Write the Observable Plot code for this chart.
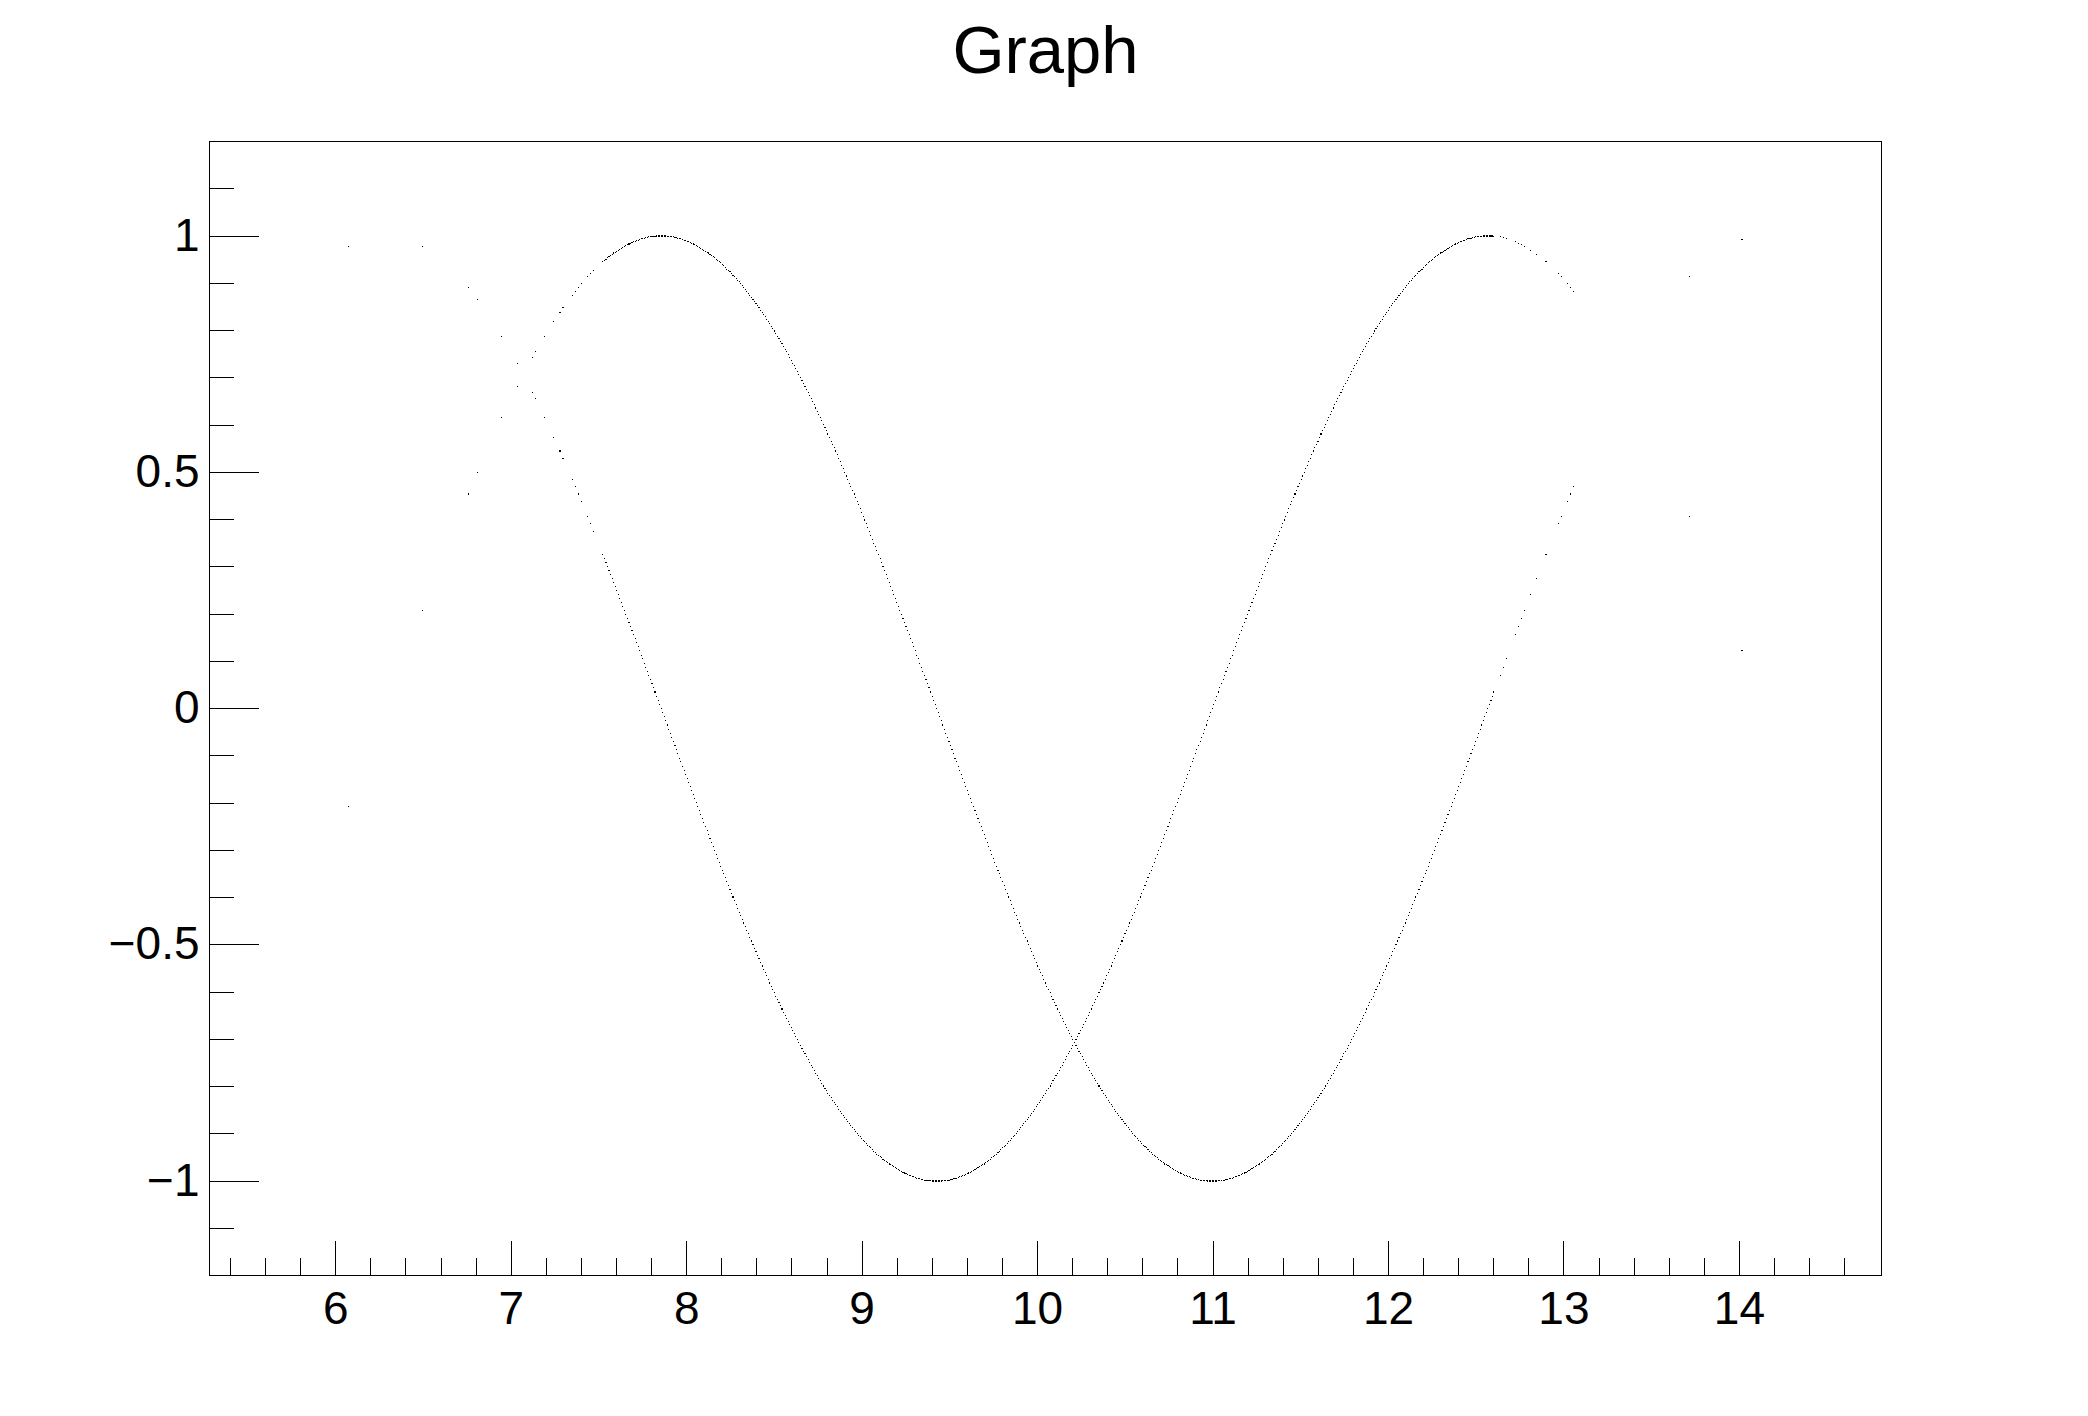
<!DOCTYPE html>
<html><head><meta charset="utf-8">
<script src="https://cdn.jsdelivr.net/npm/d3@7"></script>
<script src="https://cdn.jsdelivr.net/npm/@observablehq/plot@0.6"></script>
<style>html,body{margin:0;padding:0;background:#fff;} #chart svg{display:block;}</style>
</head><body><div id="chart"></div>
<script>
const title = "Graph";

// x positions of the sampled points (same x for both series)
const xs = [
6.074,6.493,6.754,6.807,6.946,7.034,7.121,7.138,7.191,7.243,7.278,7.295,7.348,7.365,7.383,7.400,7.435,7.453,7.470,
7.522,7.540,7.557,7.575,7.592,7.610,7.627,7.645,7.662,
7.679,7.697,7.714,7.732,7.749,7.767,7.784,7.802,7.819,7.837,
7.854,7.871,7.889,7.906,7.924,7.941,7.959,7.976,7.994,8.011,
8.029,8.046,8.063,8.081,8.098,8.116,8.133,8.151,8.168,8.186,
8.203,8.221,8.238,8.255,8.273,8.290,8.308,8.325,8.343,8.360,
8.378,8.395,8.412,8.430,8.447,8.465,8.482,8.500,8.517,8.535,
8.552,8.570,8.587,8.604,8.622,8.639,8.657,8.674,8.692,8.709,
8.727,8.744,8.762,8.779,8.796,8.814,8.831,8.849,8.866,8.884,
8.901,8.919,8.936,8.954,8.971,8.988,9.006,9.023,9.041,9.058,
9.076,9.093,9.111,9.128,9.146,9.163,9.180,9.198,9.215,9.233,
9.250,9.268,9.285,9.303,9.320,9.338,9.355,9.372,9.390,9.407,
9.425,9.442,9.460,9.477,9.495,9.512,9.529,9.547,9.564,9.582,
9.599,9.617,9.634,9.652,9.669,9.687,9.704,9.721,9.739,9.756,
9.774,9.791,9.809,9.826,9.844,9.861,9.879,9.896,9.913,9.931,
9.948,9.966,9.983,10.001,10.018,10.036,10.053,10.071,10.088,10.105,
10.123,10.140,10.158,10.175,10.193,10.210,10.228,10.245,10.263,10.280,
10.297,10.315,10.332,10.350,10.367,10.385,10.402,10.420,10.437,10.455,
10.472,10.489,10.507,10.524,10.542,10.559,10.577,10.594,10.612,10.629,
10.647,10.664,10.681,10.699,10.716,10.734,10.751,10.769,10.786,10.804,
10.821,10.838,10.856,10.873,10.891,10.908,10.926,10.943,10.961,10.978,
10.996,11.013,11.030,11.048,11.065,11.083,11.100,11.118,11.135,11.153,
11.170,11.188,11.205,11.222,11.240,11.257,11.275,11.292,11.310,11.327,
11.345,11.362,11.380,11.397,11.414,11.432,11.449,11.467,11.484,11.502,
11.519,11.537,11.554,11.572,11.589,11.606,11.624,11.641,11.659,11.676,
11.694,11.711,11.729,11.746,11.764,11.781,11.798,11.816,11.833,11.851,
11.868,11.886,11.903,11.921,11.938,11.956,11.973,11.990,12.008,12.025,
12.043,12.060,12.078,12.095,12.113,12.130,12.147,12.165,12.182,12.200,
12.217,12.235,12.252,12.270,12.287,12.305,12.322,12.339,12.357,12.374,
12.392,12.409,12.427,12.444,12.462,12.479,12.497,12.514,12.531,12.549,
12.566,12.584,12.601,
12.636,12.654,12.671,12.723,12.741,12.758,12.776,12.811,12.846,12.898,12.968,12.985,13.020,13.038,13.055,13.718,14.015
];

// first series (sine-shaped curve)
const sinY = [
-.208,.208,.454,.5,.616,.682,.743,.755,.788,.819,.839,.848,.875,.883,.891,.899,.914,.921,.927,
.946,.951,.956,.961,.966,.970,.974,.978,.982,
.985,.988,.990,.993,.995,.996,.998,.999,.999,1.000,
1,1.000,.999,.999,.998,.996,.995,.993,.990,.988,
.985,.982,.978,.974,.970,.966,.961,.956,.951,.946,
.940,.934,.927,.921,.914,.906,.899,.891,.883,.875,
.866,.857,.848,.839,.829,.819,.809,.799,.788,.777,
.766,.755,.743,.731,.719,.707,.695,.682,.669,.656,
.643,.629,.616,.602,.588,.574,.559,.545,.530,.515,
.5,.485,.469,.454,.438,.423,.407,.391,.375,.358,
.342,.326,.309,.292,.276,.259,.242,.225,.208,.191,
.174,.156,.139,.122,.105,.087,.070,.052,.035,.017,
0,-.017,-.035,-.052,-.070,-.087,-.105,-.122,-.139,-.156,
-.174,-.191,-.208,-.225,-.242,-.259,-.276,-.292,-.309,-.326,
-.342,-.358,-.375,-.391,-.407,-.423,-.438,-.454,-.469,-.485,
-.5,-.515,-.530,-.545,-.559,-.574,-.588,-.602,-.616,-.629,
-.643,-.656,-.669,-.682,-.695,-.707,-.719,-.731,-.743,-.755,
-.766,-.777,-.788,-.799,-.809,-.819,-.829,-.839,-.848,-.857,
-.866,-.875,-.883,-.891,-.899,-.906,-.914,-.921,-.927,-.934,
-.940,-.946,-.951,-.956,-.961,-.966,-.970,-.974,-.978,-.982,
-.985,-.988,-.990,-.993,-.995,-.996,-.998,-.999,-.999,-1.000,
-1,-1.000,-.999,-.999,-.998,-.996,-.995,-.993,-.990,-.988,
-.985,-.982,-.978,-.974,-.970,-.966,-.961,-.956,-.951,-.946,
-.940,-.934,-.927,-.921,-.914,-.906,-.899,-.891,-.883,-.875,
-.866,-.857,-.848,-.839,-.829,-.819,-.809,-.799,-.788,-.777,
-.766,-.755,-.743,-.731,-.719,-.707,-.695,-.682,-.669,-.656,
-.643,-.629,-.616,-.602,-.588,-.574,-.559,-.545,-.530,-.515,
-.5,-.485,-.469,-.454,-.438,-.423,-.407,-.391,-.375,-.358,
-.342,-.326,-.309,-.292,-.276,-.259,-.242,-.225,-.208,-.191,
-.174,-.156,-.139,-.122,-.105,-.087,-.070,-.052,-.035,-.017,
0,.017,.035,
.070,.087,.105,.156,.174,.191,.208,.242,.276,.326,.391,.407,.438,.454,.469,.914,.993
];

// second series (cosine-shaped curve)
const cosY = [
.978,.978,.891,.866,.788,.731,.669,.656,.616,.574,.545,.530,.485,.469,.454,.438,.407,.391,.375,
.326,.309,.292,.276,.259,.242,.225,.208,.191,
.174,.156,.139,.122,.105,.087,.070,.052,.035,.017,
0,-.017,-.035,-.052,-.070,-.087,-.105,-.122,-.139,-.156,
-.174,-.191,-.208,-.225,-.242,-.259,-.276,-.292,-.309,-.326,
-.342,-.358,-.375,-.391,-.407,-.423,-.438,-.454,-.469,-.485,
-.5,-.515,-.530,-.545,-.559,-.574,-.588,-.602,-.616,-.629,
-.643,-.656,-.669,-.682,-.695,-.707,-.719,-.731,-.743,-.755,
-.766,-.777,-.788,-.799,-.809,-.819,-.829,-.839,-.848,-.857,
-.866,-.875,-.883,-.891,-.899,-.906,-.914,-.921,-.927,-.934,
-.940,-.946,-.951,-.956,-.961,-.966,-.970,-.974,-.978,-.982,
-.985,-.988,-.990,-.993,-.995,-.996,-.998,-.999,-.999,-1.000,
-1,-1.000,-.999,-.999,-.998,-.996,-.995,-.993,-.990,-.988,
-.985,-.982,-.978,-.974,-.970,-.966,-.961,-.956,-.951,-.946,
-.940,-.934,-.927,-.921,-.914,-.906,-.899,-.891,-.883,-.875,
-.866,-.857,-.848,-.839,-.829,-.819,-.809,-.799,-.788,-.777,
-.766,-.755,-.743,-.731,-.719,-.707,-.695,-.682,-.669,-.656,
-.643,-.629,-.616,-.602,-.588,-.574,-.559,-.545,-.530,-.515,
-.5,-.485,-.469,-.454,-.438,-.423,-.407,-.391,-.375,-.358,
-.342,-.326,-.309,-.292,-.276,-.259,-.242,-.225,-.208,-.191,
-.174,-.156,-.139,-.122,-.105,-.087,-.070,-.052,-.035,-.017,
0,.017,.035,.052,.070,.087,.105,.122,.139,.156,
.174,.191,.208,.225,.242,.259,.276,.292,.309,.326,
.342,.358,.375,.391,.407,.423,.438,.454,.469,.485,
.5,.515,.530,.545,.559,.574,.588,.602,.616,.629,
.643,.656,.669,.682,.695,.707,.719,.731,.743,.755,
.766,.777,.788,.799,.809,.819,.829,.839,.848,.857,
.866,.875,.883,.891,.899,.906,.914,.921,.927,.934,
.940,.946,.951,.956,.961,.966,.970,.974,.978,.982,
.985,.988,.990,.993,.995,.996,.998,.999,.999,1.000,
1,1.000,.999,
.998,.996,.995,.988,.985,.982,.978,.970,.961,.946,.921,.914,.899,.891,.883,.407,.122
];

// extra in-between samples of the dense middle part
const xsMid = [
7.531,7.549,7.566,7.583,7.601,7.618,7.636,7.653,7.671,
7.688,7.706,7.723,7.741,7.758,7.775,7.793,7.810,7.828,7.845,
7.863,7.880,7.898,7.915,7.933,7.950,7.967,7.985,8.002,8.020,
8.037,8.055,8.072,8.090,8.107,8.125,8.142,8.159,8.177,8.194,
8.212,8.229,8.247,8.264,8.282,8.299,8.316,8.334,8.351,8.369,
8.386,8.404,8.421,8.439,8.456,8.474,8.491,8.508,8.526,8.543,
8.561,8.578,8.596,8.613,8.631,8.648,8.666,8.683,8.700,8.718,
8.735,8.753,8.770,8.788,8.805,8.823,8.840,8.858,8.875,8.892,
8.910,8.927,8.945,8.962,8.980,8.997,9.015,9.032,9.050,9.067,
9.084,9.102,9.119,9.137,9.154,9.172,9.189,9.207,9.224,9.242,
9.259,9.276,9.294,9.311,9.329,9.346,9.364,9.381,9.399,9.416,
9.434,9.451,9.468,9.486,9.503,9.521,9.538,9.556,9.573,9.591,
9.608,9.625,9.643,9.660,9.678,9.695,9.713,9.730,9.748,9.765,
9.783,9.800,9.817,9.835,9.852,9.870,9.887,9.905,9.922,9.940,
9.957,9.975,9.992,10.009,10.027,10.044,10.062,10.079,10.097,10.114,
10.132,10.149,10.167,10.184,10.201,10.219,10.236,10.254,10.271,10.289,
10.306,10.324,10.341,10.359,10.376,10.393,10.411,10.428,10.446,10.463,
10.481,10.498,10.516,10.533,10.551,10.568,10.585,10.603,10.620,10.638,
10.655,10.673,10.690,10.708,10.725,10.743,10.760,10.777,10.795,10.812,
10.830,10.847,10.865,10.882,10.900,10.917,10.934,10.952,10.969,10.987,
11.004,11.022,11.039,11.057,11.074,11.092,11.109,11.126,11.144,11.161,
11.179,11.196,11.214,11.231,11.249,11.266,11.284,11.301,11.318,11.336,
11.353,11.371,11.388,11.406,11.423,11.441,11.458,11.476,11.493,11.510,
11.528,11.545,11.563,11.580,11.598,11.615,11.633,11.650,11.668,11.685,
11.702,11.720,11.737,11.755,11.772,11.790,11.807,11.825,11.842,11.860,
11.877,11.894,11.912,11.929,11.947,11.964,11.982,11.999,12.017,12.034,
12.051,12.069,12.086,12.104,12.121,12.139,12.156,12.174,12.191,12.209,
12.226,12.243,12.261,12.278,12.296,12.313,12.331,12.348,12.366,12.383,
12.401,12.418,12.435,12.453,12.470,12.488,12.505,12.523,12.540,12.558,
12.575,12.593
];

const sinYMid = [
.948,.954,.959,.964,.968,.972,.976,.980,.983,
.986,.989,.991,.994,.995,.997,.998,.999,1.000,1.000,
1.000,1.000,.999,.998,.997,.995,.994,.991,.989,.986,
.983,.980,.976,.972,.968,.964,.959,.954,.948,.943,
.937,.930,.924,.917,.910,.903,.895,.887,.879,.870,
.862,.853,.843,.834,.824,.814,.804,.793,.783,.772,
.760,.749,.737,.725,.713,.701,.688,.676,.663,.649,
.636,.622,.609,.595,.581,.566,.552,.537,.522,.508,
.492,.477,.462,.446,.431,.415,.399,.383,.366,.350,
.334,.317,.301,.284,.267,.250,.233,.216,.199,.182,
.165,.148,.131,.113,.096,.078,.061,.044,.026,.009,
-.009,-.026,-.044,-.061,-.078,-.096,-.113,-.131,-.148,-.165,
-.182,-.199,-.216,-.233,-.250,-.267,-.284,-.301,-.317,-.334,
-.350,-.366,-.383,-.399,-.415,-.431,-.446,-.462,-.477,-.492,
-.508,-.522,-.537,-.552,-.566,-.581,-.595,-.609,-.622,-.636,
-.649,-.663,-.676,-.688,-.701,-.713,-.725,-.737,-.749,-.760,
-.772,-.783,-.793,-.804,-.814,-.824,-.834,-.843,-.853,-.862,
-.870,-.879,-.887,-.895,-.903,-.910,-.917,-.924,-.930,-.937,
-.943,-.948,-.954,-.959,-.964,-.968,-.972,-.976,-.980,-.983,
-.986,-.989,-.991,-.994,-.995,-.997,-.998,-.999,-1.000,-1.000,
-1.000,-1.000,-.999,-.998,-.997,-.995,-.994,-.991,-.989,-.986,
-.983,-.980,-.976,-.972,-.968,-.964,-.959,-.954,-.948,-.943,
-.937,-.930,-.924,-.917,-.910,-.903,-.895,-.887,-.879,-.870,
-.862,-.853,-.843,-.834,-.824,-.814,-.804,-.793,-.783,-.772,
-.760,-.749,-.737,-.725,-.713,-.701,-.688,-.676,-.663,-.649,
-.636,-.622,-.609,-.595,-.581,-.566,-.552,-.537,-.522,-.508,
-.492,-.477,-.462,-.446,-.431,-.415,-.399,-.383,-.366,-.350,
-.334,-.317,-.301,-.284,-.267,-.250,-.233,-.216,-.199,-.182,
-.165,-.148,-.131,-.113,-.096,-.078,-.061,-.044,-.026,-.009,
.009,.026
];

const cosYMid = [
.317,.301,.284,.267,.250,.233,.216,.199,.182,
.165,.148,.131,.113,.096,.078,.061,.044,.026,.009,
-.009,-.026,-.044,-.061,-.078,-.096,-.113,-.131,-.148,-.165,
-.182,-.199,-.216,-.233,-.250,-.267,-.284,-.301,-.317,-.334,
-.350,-.366,-.383,-.399,-.415,-.431,-.446,-.462,-.477,-.492,
-.508,-.522,-.537,-.552,-.566,-.581,-.595,-.609,-.622,-.636,
-.649,-.663,-.676,-.688,-.701,-.713,-.725,-.737,-.749,-.760,
-.772,-.783,-.793,-.804,-.814,-.824,-.834,-.843,-.853,-.862,
-.870,-.879,-.887,-.895,-.903,-.910,-.917,-.924,-.930,-.937,
-.943,-.948,-.954,-.959,-.964,-.968,-.972,-.976,-.980,-.983,
-.986,-.989,-.991,-.994,-.995,-.997,-.998,-.999,-1.000,-1.000,
-1.000,-1.000,-.999,-.998,-.997,-.995,-.994,-.991,-.989,-.986,
-.983,-.980,-.976,-.972,-.968,-.964,-.959,-.954,-.948,-.943,
-.937,-.930,-.924,-.917,-.910,-.903,-.895,-.887,-.879,-.870,
-.862,-.853,-.843,-.834,-.824,-.814,-.804,-.793,-.783,-.772,
-.760,-.749,-.737,-.725,-.713,-.701,-.688,-.676,-.663,-.649,
-.636,-.622,-.609,-.595,-.581,-.566,-.552,-.537,-.522,-.508,
-.492,-.477,-.462,-.446,-.431,-.415,-.399,-.383,-.366,-.350,
-.334,-.317,-.301,-.284,-.267,-.250,-.233,-.216,-.199,-.182,
-.165,-.148,-.131,-.113,-.096,-.078,-.061,-.044,-.026,-.009,
.009,.026,.044,.061,.078,.096,.113,.131,.148,.165,
.182,.199,.216,.233,.250,.267,.284,.301,.317,.334,
.350,.366,.383,.399,.415,.431,.446,.462,.477,.492,
.508,.522,.537,.552,.566,.581,.595,.609,.622,.636,
.649,.663,.676,.688,.701,.713,.725,.737,.749,.760,
.772,.783,.793,.804,.814,.824,.834,.843,.853,.862,
.870,.879,.887,.895,.903,.910,.917,.924,.930,.937,
.943,.948,.954,.959,.964,.968,.972,.976,.980,.983,
.986,.989,.991,.994,.995,.997,.998,.999,1.000,1.000,
1.000,1.000
];

const xMajorTicks = [6,7,8,9,10,11,12,13,14];
const xTickLabels = ["6","7","8","9","10","11","12","13","14"];
const xMinorTicks = [5.4,5.6,5.8,6.2,6.4,6.6,6.8,7.2,7.4,7.6,7.8,8.2,8.4,8.6,8.8,9.2,9.4,9.6,9.8,
  10.2,10.4,10.6,10.8,11.2,11.4,11.6,11.8,12.2,12.4,12.6,12.8,13.2,13.4,13.6,13.8,14.2,14.4,14.6];
const yMajorTicks = [-1,-0.5,0,0.5,1];
const yTickLabels = ["\u22121","\u22120.5","0","0.5","1"];
const yMinorTicks = [-1.1,-0.9,-0.8,-0.7,-0.6,-0.4,-0.3,-0.2,-0.1,0.1,0.2,0.3,0.4,0.6,0.7,0.8,0.9,1.1];
const xDomain = [5.28, 14.81];
const yDomain = [-1.2, 1.2];

const W = 2088, H = 1416, ML = 209, MR = 207, MT = 141, MB = 141;
const FW = W - ML - MR, FH = H - MT - MB;
const FONT = "'Liberation Sans', Arial, Helvetica, sans-serif";

const pts = xs.flatMap((x, i) => [{x, y: sinY[i]}, {x, y: cosY[i]}])
  .concat(xsMid.flatMap((x, i) => [{x, y: sinYMid[i]}, {x, y: cosYMid[i]}]));

const chart = Plot.plot({
  width: W, height: H,
  marginLeft: ML, marginRight: MR, marginTop: MT, marginBottom: MB,
  style: {background: "white", fontFamily: FONT, overflow: "visible"},
  x: {domain: xDomain, axis: null},
  y: {domain: yDomain, axis: null},
  marks: [
    Plot.ruleX(xMajorTicks, {x: d => d, insetTop: FH - 34, stroke: "black", strokeWidth: 1, shapeRendering: "crispEdges"}),
    Plot.ruleX(xMinorTicks, {x: d => d, insetTop: FH - 17, stroke: "black", strokeWidth: 1, shapeRendering: "crispEdges"}),
    Plot.ruleY(yMajorTicks, {y: d => d, insetRight: FW - 50, stroke: "black", strokeWidth: 1, shapeRendering: "crispEdges"}),
    Plot.ruleY(yMinorTicks, {y: d => d, insetRight: FW - 25, stroke: "black", strokeWidth: 1, shapeRendering: "crispEdges"}),
    Plot.frame({stroke: "black", strokeWidth: 1, shapeRendering: "crispEdges"}),
    Plot.dot(pts, {x: "x", y: "y", r: 0.62, symbol: "square", fill: "black", stroke: "none", shapeRendering: "crispEdges"}),
    Plot.text(xMajorTicks, {x: d => d, text: (d, i) => xTickLabels[i], frameAnchor: "bottom", dy: 48,
      lineAnchor: "bottom", textAnchor: "middle", fontSize: 46, fontFamily: FONT, fill: "black"}),
    Plot.text(yMajorTicks, {y: d => d, text: (d, i) => yTickLabels[i], frameAnchor: "left", dx: -10,
      lineAnchor: "middle", textAnchor: "end", fontSize: 46, fontFamily: FONT, fill: "black"}),
    Plot.text([title], {text: d => d, frameAnchor: "top", dy: -69, lineAnchor: "bottom",
      textAnchor: "middle", fontSize: 67, fontFamily: FONT, fill: "black"})
  ]
});
document.getElementById("chart").appendChild(chart);
</script>
</body></html>
